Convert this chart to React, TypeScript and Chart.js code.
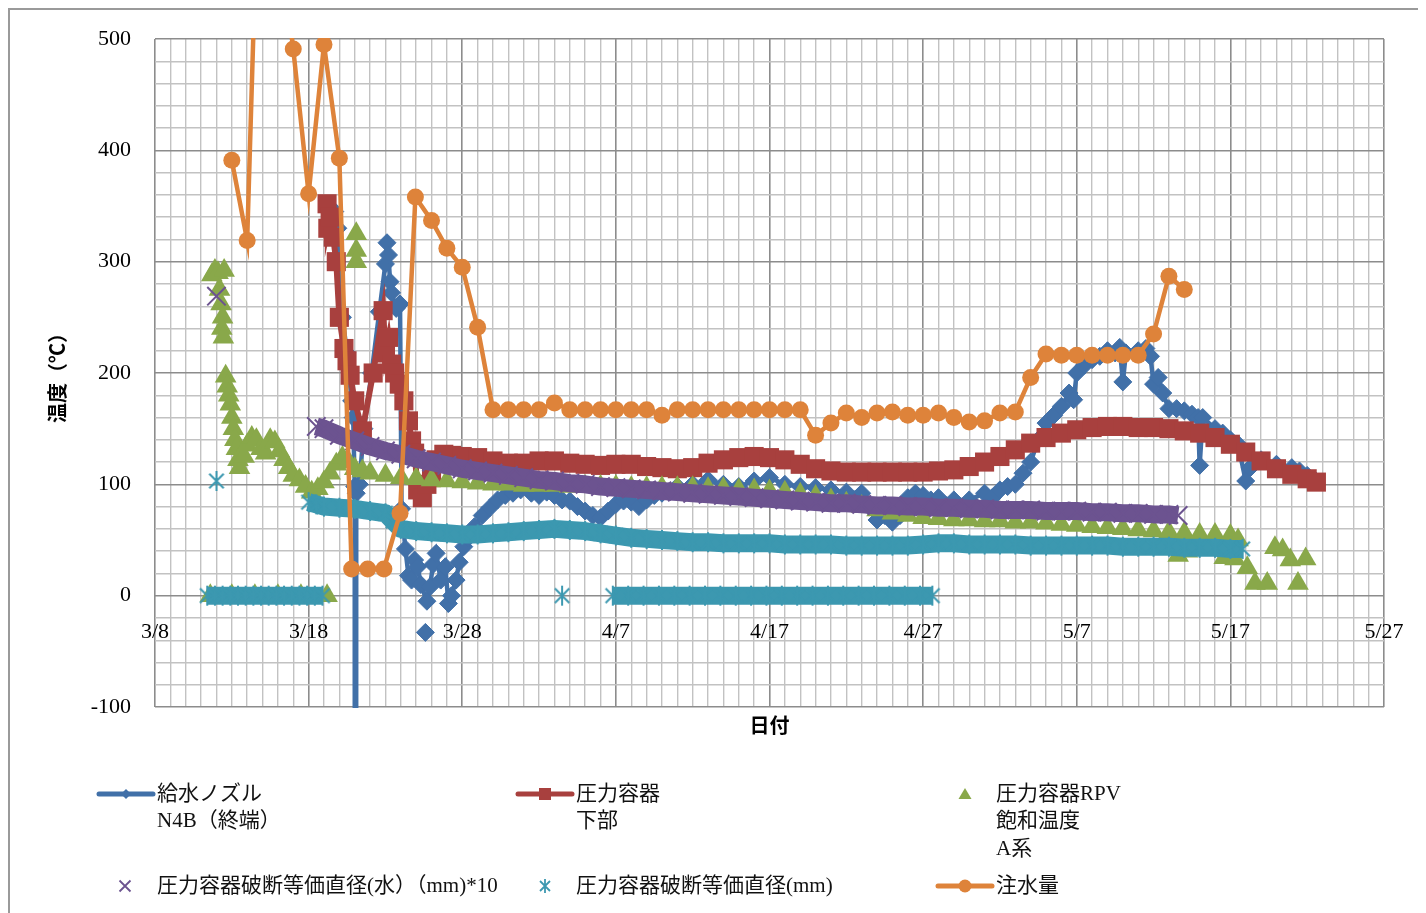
import React, { useEffect, useRef } from 'react';
import { Chart, registerables } from 'chart.js';

Chart.register(...registerables);

// Horizontal positions are days counted from 3/8.
const TICK_LABELS = ['3/8', '3/18', '3/28', '4/7', '4/17', '4/27', '5/7', '5/17', '5/27'];
const X_MIN = 0;
const X_MAX = 80;
const Y_MIN = -100;
const Y_MAX = 500;

// 給水ノズル N4B（終端）  [day, ℃]
const NOZZLE_N4B: [number, number | null][] = [
  [11.5, 340], [11.7, 345], [11.9, 330], [12.2, 250], [12.5, 218], [12.8, 175], [12.9, 160],
  [13.0, 98], [13.05, -2500], [13.1, 92], [13.3, 100], [13.6, 150], [14.1, 200], [14.6, 255],
  [15.0, 298], [15.1, 317], [15.2, 306], [15.3, 282], [15.4, 272], [15.7, 258], [15.95, 262],
  [16.05, 78], [16.3, 42], [16.5, 18], [16.7, 14], [16.9, 32], [17.1, 26], [17.3, 10],
  [17.7, -5], [17.9, 8], [18.1, 28], [18.3, 38], [18.6, 14], [18.9, 26], [19.1, -7], [19.3, 0],
  [19.6, 14], [19.8, 30], [20.1, 44], [20.4, 52], [20.8, 62], [21.3, 72], [21.8, 79],
  [22.3, 86], [22.8, 90], [23.3, 92], [23.8, 95], [24.5, 92], [25, 90], [25.5, 93], [26, 90],
  [26.5, 86], [27, 85], [27.5, 80], [28, 76], [28.5, 72], [29, 70], [29.5, 76], [30, 82],
  [30.5, 85], [31, 84], [31.5, 80], [32, 86], [32.5, 90], [33, 92], [34, 98], [35, 100],
  [36, 104], [37, 100], [38, 98], [39, 103], [40, 106], [41, 100], [42, 98], [43, 97],
  [44, 95], [45, 93], [46, 92], [46.5, 80], [47, 68], [47.5, 72], [48, 66], [48.5, 72],
  [49, 88], [49.5, 92], [50, 90], [50.5, 86], [51, 88], [52, 86], [53, 86], [54, 92],
  [54.5, 88], [55, 95], [55.5, 98], [56, 100], [56.5, 110], [57, 120], [57.5, 140], [58, 155],
  [58.5, 162], [59, 170], [59.5, 182], [59.8, 176], [60, 200], [60.5, 207], [61, 212],
  [61.5, 215], [62, 220], [62.5, 218], [62.8, 223], [63.0, 192], [63.2, 218], [64, 220],
  [64.5, 222], [64.8, 215], [65, 190], [65.3, 196], [65.6, 182], [66, 168], [66.5, 168],
  [67, 166], [67.5, 163], [67.9, 160], [68, 117], [68.2, 160], [69, 150], [69.5, 146],
  [70, 140], [70.5, 136], [71, 103], [71.3, 115], [72, 122], [73, 118], [74, 115],
  [74.5, 112], [75, 108], [75.5, 104],
  [17.6, null], [17.6, -33],
];

// 圧力容器 下部
const VESSEL_BOTTOM: [number, number][] = [
  [11.2, 352], [11.25, 330], [11.4, 340], [11.6, 322], [11.8, 300], [12.0, 250], [12.3, 222],
  [12.5, 211], [12.7, 198], [13.0, 175], [13.5, 148], [14.2, 200], [14.85, 256], [15.0, 218],
  [15.2, 232], [15.4, 208], [15.6, 200], [15.9, 190], [16.2, 175], [16.5, 157], [16.7, 139],
  [16.9, 128], [17.1, 95], [17.4, 88], [17.7, 100], [18.0, 106], [18.3, 122], [18.8, 127],
  [19.3, 126], [20, 125], [21, 124], [22, 121], [23, 119], [24, 119], [25, 121], [26, 121],
  [27, 119], [28, 118], [29, 117], [30, 118], [31, 118], [32, 116], [33, 115], [34, 114],
  [35, 115], [36, 119], [37, 122], [38, 124], [39, 125], [40, 124], [41, 122], [42, 118],
  [43, 114], [44, 112], [45, 111], [46, 111], [47, 111], [48, 111], [49, 111], [50, 111],
  [51, 112], [52, 113], [53, 116], [54, 120], [55, 125], [56, 131], [57, 137], [58, 142],
  [59, 146], [60, 149], [61, 151], [62, 152], [63, 152], [64, 151], [65, 151], [66, 150],
  [67, 148], [68, 146], [69, 142], [70, 136], [71, 129], [72, 121], [73, 114], [74, 109],
  [75, 105], [75.6, 102],
];

// 圧力容器RPV 飽和温度 A系
const RPV_SATURATION_A: [number, number][] = [
  [3.6, 0], [5, 0], [6.5, 0], [8, 0], [9.5, 0], [11.2, 0],
  [3.7, 288], [3.9, 292], [4.1, 290], [4.5, 292], [4.2, 275], [4.3, 262], [4.4, 250],
  [4.35, 240], [4.45, 232], [4.6, 197], [4.7, 188], [4.8, 180], [4.9, 172], [5.0, 160],
  [5.1, 150], [5.2, 140], [5.3, 132], [5.4, 122], [5.5, 115], [5.8, 125], [6.0, 135],
  [6.3, 142], [6.6, 140], [6.9, 132], [7.2, 128], [7.5, 140], [7.8, 138], [8.1, 130],
  [8.4, 122], [8.7, 115], [9.0, 108], [9.4, 104], [9.8, 98], [10.2, 93], [10.6, 96],
  [11.0, 102], [11.4, 110], [11.8, 118], [12.2, 124], [12.6, 120], [13.0, 114],
  [13.1, 325], [13.1, 310], [13.1, 300],
  [13.5, 112], [14, 110], [15, 108], [16, 106], [17, 105], [18, 104], [19, 103], [20, 102],
  [21, 101], [22, 100], [23, 100], [24, 99], [25, 99], [26, 99], [27, 98], [28, 98],
  [29, 98], [30, 98], [31, 97], [32, 97], [33, 97], [34, 97], [35, 97], [36, 96], [37, 96],
  [38, 95], [39, 95], [40, 94], [41, 93], [42, 91], [43, 89], [44, 86], [45, 83], [46, 80],
  [47, 77], [48, 74], [49, 72], [50, 70], [51, 69], [52, 68], [53, 68], [54, 67], [55, 67],
  [56, 66], [57, 66], [58, 65], [59, 64], [60, 63], [61, 62], [62, 61], [63, 60], [64, 59],
  [65, 58], [66, 57], [66.6, 36], [67, 56], [67.2, 40], [68, 55], [69, 55], [69.6, 34],
  [70, 54], [70.3, 33], [70.5, 50], [71.1, 25], [71.6, 11], [72.4, 11], [72.9, 43],
  [73.4, 41], [73.9, 32], [74.4, 11], [74.9, 33],
];

// 圧力容器破断等価直径(水）（mm)*10
const BREAK_DIAMETER_WATER_X10: [number, number | null][] = [
  [4.0, 269], [4.0, null],
  [10.5, 152], [11, 150], [12, 144], [13, 139], [14, 134], [15, 130], [16, 127], [17, 123],
  [18, 120], [19, 117], [20, 114], [21, 112], [22, 110], [23, 108], [24, 106], [25, 104],
  [26, 103], [27, 101], [28, 100], [29, 98], [30, 97], [31, 96], [32, 95], [33, 94], [34, 93],
  [35, 92], [36, 91], [37, 90], [38, 89], [39, 88], [40, 87], [41, 86], [42, 85], [43, 84],
  [44, 83], [45, 83], [46, 82], [47, 81], [48, 81], [49, 80], [50, 80], [51, 79], [52, 79],
  [53, 78], [54, 78], [55, 77], [56, 77], [57, 77], [58, 76], [59, 76], [60, 76], [61, 75],
  [62, 75], [63, 74], [64, 74], [65, 73], [66, 73], [66.6, 72],
];

// 圧力容器破断等価直径(mm)
const BREAK_DIAMETER_MM: [number, number | null][] = [
  [3.4, 0], [3.9, 0], [4.4, 0], [4.9, 0], [5.4, 0], [5.9, 0], [6.4, 0], [6.9, 0], [7.4, 0],
  [7.9, 0], [8.4, 0], [8.9, 0], [9.4, 0], [9.9, 0], [10.4, 0], [10.9, 0], [10.9, null],
  [4.0, 103], [4.0, null],
  [26.5, 0], [26.5, null],
  [29.8, 0], [30.8, 0], [31.8, 0], [32.8, 0], [33.8, 0], [34.8, 0], [35.8, 0], [36.8, 0],
  [37.8, 0], [38.8, 0], [39.8, 0], [40.8, 0], [41.8, 0], [42.8, 0], [43.8, 0], [44.8, 0],
  [45.8, 0], [46.8, 0], [47.8, 0], [48.8, 0], [49.8, 0], [50.6, 0], [50.6, null],
  [10.0, 84], [10.5, 82], [11, 80], [12, 79], [13, 78], [14, 76], [15, 74], [15.5, 67],
  [16, 60], [17, 58], [18, 57], [19, 56], [20, 55], [21, 55], [22, 56], [23, 57], [24, 58],
  [25, 59], [26, 60], [27, 59], [28, 58], [29, 56], [30, 54], [31, 52], [32, 51], [33, 50],
  [34, 49], [35, 48], [36, 48], [37, 47], [38, 47], [39, 47], [40, 47], [41, 46], [42, 46],
  [43, 46], [44, 46], [45, 45], [46, 45], [47, 45], [48, 45], [49, 45], [50, 46], [51, 47],
  [52, 47], [53, 46], [54, 46], [55, 46], [56, 46], [57, 45], [58, 45], [59, 45], [60, 45],
  [61, 45], [62, 45], [63, 44], [64, 44], [65, 44], [66, 44], [67, 43], [68, 43], [69, 43],
  [70, 42], [70.8, 42],
];

// 注水量
const INJECTION: [number, number][] = [
  [5, 391], [6, 319], [7, 780], [8, 600], [9, 491], [10, 361], [11, 495], [12, 393],
  [12.8, 24], [13.85, 24], [14.9, 24], [15.95, 74], [16.95, 358], [18, 337], [19, 312],
  [20, 295], [21, 241], [22, 167], [23, 167], [24, 167], [25, 167], [26, 173], [27, 167],
  [28, 167], [29, 167], [30, 167], [31, 167], [32, 167], [33, 162], [34, 167], [35, 167],
  [36, 167], [37, 167], [38, 167], [39, 167], [40, 167], [41, 167], [42, 167], [43, 144],
  [44, 155], [45, 164], [46, 160], [47, 164], [48, 165], [49, 162], [50, 162], [51, 164],
  [52, 160], [53, 156], [54, 157], [55, 164], [56, 165], [57, 196], [58, 217], [59, 216],
  [60, 216], [61, 216], [62, 216], [63, 216], [64, 216], [65, 235], [66, 287], [67, 275],
];

const BLUE = '#4170a8';
const RED = '#a8403e';
const GREEN = '#89a84a';
const PURPLE = '#6c5390';
const TEAL = '#3c98b0';
const ORANGE = '#de833a';
const GRID_MINOR = '#c2c2c2';
const GRID_MAJOR = '#8c8c8c';

const SERIF = "'Liberation Serif', 'Noto Sans CJK JP', serif";
const GOTHIC = "'Noto Sans CJK JP', sans-serif";

type KeyEntry = { marker: string; color: string; mx: number; my: number; tx: number; lines: string[] };

// Legend block below the plot (canvas coordinates).
const KEY_ENTRIES: KeyEntry[] = [
  { marker: 'lineDiamond', color: BLUE, mx: 116, my: 784, tx: 147, lines: ['給水ノズル', 'N4B（終端）'] },
  { marker: 'lineSquare', color: RED, mx: 535, my: 784, tx: 566, lines: ['圧力容器', '下部'] },
  { marker: 'triangle', color: GREEN, mx: 955, my: 784, tx: 986, lines: ['圧力容器RPV', '飽和温度', 'A系'] },
  { marker: 'cross', color: PURPLE, mx: 115, my: 876, tx: 147, lines: ['圧力容器破断等価直径(水）（mm)*10'] },
  { marker: 'asterisk', color: TEAL, mx: 535, my: 876, tx: 566, lines: ['圧力容器破断等価直径(mm)'] },
  { marker: 'lineCircle', color: ORANGE, mx: 955, my: 876, tx: 986, lines: ['注水量'] },
];

function toPoints(rows: [number, number | null][]) {
  return rows.map(([x, y]) => ({ x, y }));
}

function asteriskImage(size: number, color: string, lw: number) {
  const c = document.createElement('canvas');
  c.width = size;
  c.height = size;
  const g = c.getContext('2d')!;
  const m = size / 2;
  const r = size / 2 - 1;
  const d = r * 0.72;
  g.strokeStyle = color;
  g.lineWidth = lw;
  g.beginPath();
  g.moveTo(m, m - r);
  g.lineTo(m, m + r);
  g.moveTo(m - d, m - d);
  g.lineTo(m + d, m + d);
  g.moveTo(m + d, m - d);
  g.lineTo(m - d, m + d);
  g.stroke();
  return c;
}

function drawKeyMarker(ctx: CanvasRenderingContext2D, e: KeyEntry) {
  const { mx: x, my: y, color } = e;
  ctx.strokeStyle = color;
  ctx.fillStyle = color;
  if (e.marker.startsWith('line')) {
    ctx.lineWidth = 5;
    ctx.lineCap = 'round';
    ctx.beginPath();
    ctx.moveTo(x - 27, y);
    ctx.lineTo(x + 27, y);
    ctx.stroke();
  }
  ctx.beginPath();
  switch (e.marker) {
    case 'lineDiamond':
      ctx.moveTo(x, y - 5);
      ctx.lineTo(x + 5, y);
      ctx.lineTo(x, y + 5);
      ctx.lineTo(x - 5, y);
      ctx.closePath();
      ctx.fill();
      break;
    case 'lineSquare':
      ctx.fillRect(x - 6, y - 6, 12, 12);
      break;
    case 'triangle':
      ctx.moveTo(x, y - 6);
      ctx.lineTo(x + 6.5, y + 5);
      ctx.lineTo(x - 6.5, y + 5);
      ctx.closePath();
      ctx.fill();
      break;
    case 'cross':
      ctx.lineWidth = 1.8;
      ctx.lineCap = 'butt';
      ctx.moveTo(x - 5.5, y - 5.5);
      ctx.lineTo(x + 5.5, y + 5.5);
      ctx.moveTo(x + 5.5, y - 5.5);
      ctx.lineTo(x - 5.5, y + 5.5);
      ctx.stroke();
      break;
    case 'asterisk':
      ctx.lineWidth = 1.8;
      ctx.lineCap = 'butt';
      ctx.moveTo(x, y - 7);
      ctx.lineTo(x, y + 7);
      ctx.moveTo(x - 5, y - 5);
      ctx.lineTo(x + 5, y + 5);
      ctx.moveTo(x + 5, y - 5);
      ctx.lineTo(x - 5, y + 5);
      ctx.stroke();
      break;
    case 'lineCircle':
      ctx.arc(x, y, 6.5, 0, Math.PI * 2);
      ctx.fill();
      break;
  }
}

const seriesKey = {
  id: 'seriesKey',
  afterDraw(chart: Chart) {
    const ctx = chart.ctx;
    ctx.save();
    KEY_ENTRIES.forEach((e) => {
      drawKeyMarker(ctx, e);
      ctx.font = `21px ${SERIF}`;
      ctx.fillStyle = '#111';
      ctx.textAlign = 'left';
      ctx.textBaseline = 'middle';
      e.lines.forEach((t, i) => ctx.fillText(t, e.tx, e.my + i * 27.5));
    });
    ctx.restore();
  },
};

export default function App() {
  const ref = useRef<HTMLCanvasElement>(null);

  useEffect(() => {
    const canvas = ref.current!;
    const star = asteriskImage(22, TEAL, 2);
    const isMajorX = (v: number) => Math.round(v) % 10 === 0;
    const isMajorY = (v: number) => Math.round(v) % 100 === 0;

    const chart = new Chart(canvas, {
      type: 'line',
      data: {
        datasets: [
          {
            label: '給水ノズルN4B（終端）',
            data: toPoints(NOZZLE_N4B),
            borderColor: BLUE,
            backgroundColor: BLUE,
            borderWidth: 4.5,
            pointStyle: 'rectRot',
            pointRadius: 9,
            pointBorderWidth: 1,
            pointBackgroundColor: BLUE,
            pointBorderColor: BLUE,
            order: 6,
            clip: 1,
          },
          {
            label: '圧力容器下部',
            data: toPoints(VESSEL_BOTTOM),
            borderColor: RED,
            backgroundColor: RED,
            borderWidth: 6,
            pointStyle: 'rect',
            pointRadius: 13.5,
            pointBorderWidth: 0,
            pointBackgroundColor: RED,
            order: 5,
            clip: 1,
          },
          {
            label: '圧力容器RPV飽和温度A系',
            data: toPoints(RPV_SATURATION_A),
            showLine: false,
            borderColor: GREEN,
            backgroundColor: GREEN,
            pointStyle: 'triangle',
            pointRadius: 12.5,
            pointBorderWidth: 0,
            pointBackgroundColor: GREEN,
            order: 4,
            clip: 1,
          },
          {
            label: '圧力容器破断等価直径(水）（mm)*10',
            data: toPoints(BREAK_DIAMETER_WATER_X10),
            borderColor: PURPLE,
            backgroundColor: PURPLE,
            borderWidth: 18,
            borderJoinStyle: 'round',
            pointStyle: 'crossRot',
            pointRadius: 13,
            pointBorderWidth: 2,
            pointBorderColor: PURPLE,
            order: 3,
            clip: 1,
          },
          {
            label: '圧力容器破断等価直径(mm)',
            data: toPoints(BREAK_DIAMETER_MM),
            borderColor: TEAL,
            backgroundColor: TEAL,
            borderWidth: 18,
            borderJoinStyle: 'round',
            pointStyle: star,
            pointRadius: 11,
            order: 2,
            clip: 1,
          },
          {
            label: '注水量',
            data: toPoints(INJECTION),
            borderColor: ORANGE,
            backgroundColor: ORANGE,
            borderWidth: 4.5,
            pointStyle: 'circle',
            pointRadius: 8.5,
            pointBorderWidth: 0,
            pointBackgroundColor: ORANGE,
            order: 1,
            clip: 1,
          },
        ],
      },
      options: {
        animation: false,
        responsive: false,
        events: [],
        layout: { padding: { left: 0, top: 28, right: 42, bottom: 166 } },
        plugins: { legend: { display: false }, tooltip: { enabled: false } },
        scales: {
          x: {
            type: 'linear',
            min: X_MIN,
            max: X_MAX,
            afterFit: (s: any) => {
              s.height = 40;
              s.paddingLeft = 0;
              s.paddingRight = 0;
            },
            border: { display: false },
            grid: {
              drawTicks: false,
              color: (c: any) => (isMajorX(c.tick.value) ? GRID_MAJOR : GRID_MINOR),
              lineWidth: (c: any) => (isMajorX(c.tick.value) ? 1.6 : 1.4),
            },
            ticks: {
              stepSize: 1,
              autoSkip: false,
              maxRotation: 0,
              mirror: true,
              padding: 62,
              color: '#000',
              font: { family: SERIF, size: 22 },
              callback: (v: any) => (isMajorX(v) ? TICK_LABELS[Math.round(v) / 10] : ''),
            },
            title: {
              display: true,
              text: '日付',
              color: '#000',
              font: { family: GOTHIC, size: 20, weight: 'bold' },
              padding: { top: 0, bottom: 10 },
            },
          },
          y: {
            min: Y_MIN,
            max: Y_MAX,
            afterFit: (s: any) => {
              s.width = 145;
              s.paddingTop = 0;
              s.paddingBottom = 0;
            },
            border: { display: false },
            grid: {
              drawTicks: false,
              color: (c: any) => (isMajorY(c.tick.value) ? GRID_MAJOR : GRID_MINOR),
              lineWidth: (c: any) => (isMajorY(c.tick.value) ? 1.6 : 1.4),
            },
            ticks: {
              stepSize: 20,
              autoSkip: false,
              padding: 24,
              color: '#000',
              font: { family: SERIF, size: 22 },
              callback: (v: any) => (isMajorY(v) ? String(Math.round(v)) : ''),
            },
            title: {
              display: true,
              text: '温度（℃）',
              color: '#000',
              font: { family: GOTHIC, size: 20, weight: 'bold' },
              padding: { top: 35, bottom: 0 },
            },
          },
        },
      },
      plugins: [seriesKey],
    } as any);

    return () => chart.destroy();
  }, []);

  return (
    <div
      style={{
        width: 1416,
        height: 903,
        borderLeft: '2px solid #9a9a9a',
        borderTop: '2px solid #9a9a9a',
        background: '#fff',
        overflow: 'hidden',
      }}
    >
      <canvas ref={ref} width={1416} height={903} style={{ display: 'block', width: 1416, height: 903 }} />
    </div>
  );
}
